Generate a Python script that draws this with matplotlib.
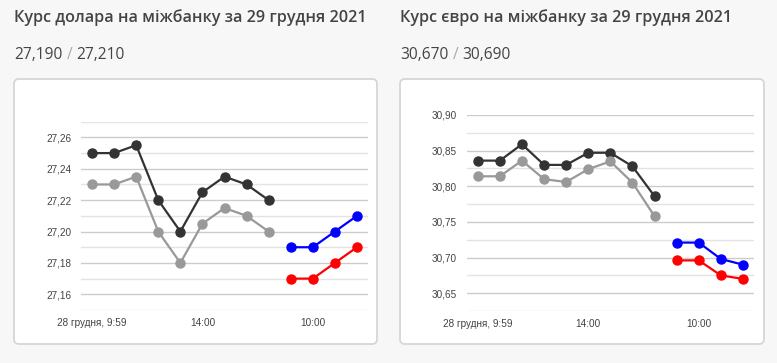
import matplotlib
matplotlib.use("Agg")
import matplotlib.pyplot as plt
import matplotlib.patches as mpatches
import matplotlib.transforms as mtransforms
from matplotlib.ticker import FuncFormatter, MultipleLocator

# x positions: 9 points for 28 December, 4 points for 29 December
x_prev = [0, 1, 2, 3, 4, 5, 6, 7, 8]
x_today = [9, 10, 11, 12]
x_tick_pos = [0, 5, 10]
x_tick_labels = ["28 грудня, 9:59", "14:00", "10:00"]

# USD
usd_prev_sell = [27.25, 27.25, 27.255, 27.22, 27.20, 27.225, 27.235, 27.23, 27.22]
usd_prev_buy = [27.23, 27.23, 27.235, 27.20, 27.18, 27.205, 27.215, 27.21, 27.20]
usd_sell = [27.19, 27.19, 27.20, 27.21]
usd_buy = [27.17, 27.17, 27.18, 27.19]

# EUR
eur_prev_sell = [30.836, 30.836, 30.859, 30.830, 30.830, 30.847, 30.847, 30.828, 30.786]
eur_prev_buy = [30.814, 30.814, 30.836, 30.810, 30.806, 30.824, 30.835, 30.805, 30.758]
eur_sell = [30.721, 30.721, 30.698, 30.690]
eur_buy = [30.696, 30.696, 30.675, 30.670]

titles = ["Курс долара на міжбанку за 29 грудня 2021",
          "Курс євро на міжбанку за 29 грудня 2021"]
rates = [("27,190", "27,210"), ("30,670", "30,690")]

W, H = 777, 363
BG = "#f7f7f7"

fig = plt.figure(figsize=(W / 100, H / 100), dpi=100, facecolor=BG)


def px_axes(left, top, right, bottom):
    # axes rectangle given in pixel coordinates from the top-left corner
    return fig.add_axes([left / W, 1 - bottom / H, (right - left) / W, (bottom - top) / H])


def card(x0, y0, x1, y1):
    box = mpatches.FancyBboxPatch((x0, H - y1), x1 - x0, y1 - y0,
                                  boxstyle="round,pad=0,rounding_size=5",
                                  facecolor="white", edgecolor="#d6d6d6", linewidth=1.3,
                                  transform=mtransforms.IdentityTransform(), zorder=-10)
    fig.add_artist(box)


def draw_chart(ax, prev_sell, prev_buy, sell, buy, ylim, major, minor, fmt):
    ax.set_facecolor("none")
    line_kw = dict(lw=1.6, marker="o", markersize=6.5, zorder=3)
    ax.plot(x_prev, prev_sell, color="#333333", **line_kw)
    ax.plot(x_prev, prev_buy, color="#999999", **line_kw)
    ax.plot(x_today, sell, color="#0000ff", **line_kw)
    ax.plot(x_today, buy, color="#ff0000", **line_kw)

    ax.set_xlim(-0.5, 12.5)
    ax.set_ylim(*ylim)
    ax.yaxis.set_major_locator(MultipleLocator(major))
    ax.yaxis.set_minor_locator(MultipleLocator(minor))
    ax.yaxis.set_major_formatter(FuncFormatter(lambda v, p: fmt.format(v).replace(".", ",")))
    ax.grid(which="major", axis="y", color="#cccccc", lw=1)
    ax.grid(which="minor", axis="y", color="#e3e3e3", lw=1)
    ax.set_xticks(x_tick_pos)
    ax.set_xticklabels(x_tick_labels)
    ax.tick_params(axis="both", which="both", length=0, labelsize=7.2,
                   labelcolor="#444444")
    ax.tick_params(axis="y", pad=7)
    ax.tick_params(axis="x", pad=6)
    for lab in ax.get_xticklabels() + ax.get_yticklabels():
        lab.set_family("Liberation Sans")
    for s in ax.spines.values():
        s.set_visible(False)


# cards
card(14, 79, 377, 344)
card(400, 79, 764, 344)

# headers
for x0, title, (buy_txt, sell_txt) in zip([14, 400], titles, rates):
    fig.text(x0 / W, 1 - 22 / H, title, family="Open Sans", fontweight="semibold",
             fontsize=11.6, color="#444444", va="baseline")
    t = fig.text(x0 / W, 1 - 59 / H, buy_txt, family="Open Sans", fontsize=11.2,
                 color="#444444", va="baseline")
    fig.canvas.draw()
    bb = t.get_window_extent()
    t2 = fig.text(bb.x1 / W + 4 / W, 1 - 59 / H, "/", family="Open Sans", fontsize=11.2,
                  color="#aaaaaa", va="baseline")
    bb2 = t2.get_window_extent()
    fig.text(bb2.x1 / W + 4 / W, 1 - 59 / H, sell_txt, family="Open Sans", fontsize=11.2,
             color="#444444", va="baseline")

ax1 = px_axes(81, 121.7, 368, 310)
draw_chart(ax1, usd_prev_sell, usd_prev_buy, usd_sell, usd_buy,
           (27.15, 27.27), 0.02, 0.01, "{:.2f}")

ax2 = px_axes(466.7, 115, 754, 311)
draw_chart(ax2, eur_prev_sell, eur_prev_buy, eur_sell, eur_buy,
           (30.625, 30.90), 0.05, 0.025, "{:.2f}")

fig.savefig("out.png", dpi=100, facecolor=BG)
